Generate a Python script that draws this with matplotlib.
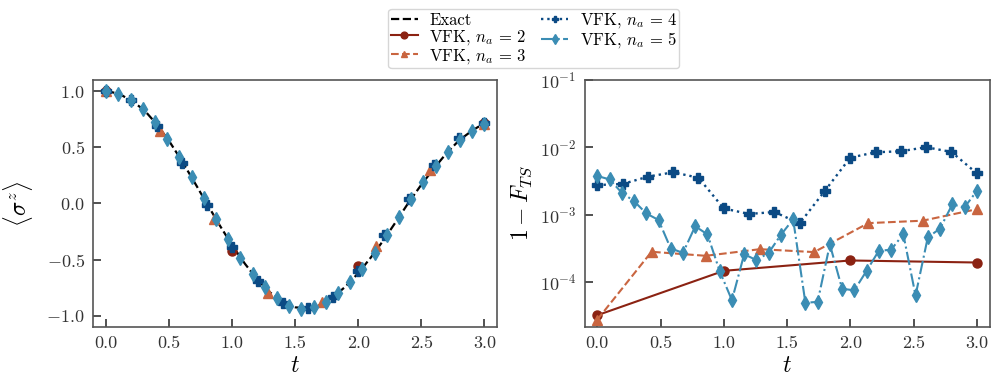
import numpy as np
import matplotlib
matplotlib.use("Agg")
import matplotlib.pyplot as plt

plt.rcParams["font.family"] = "serif"
plt.rcParams["font.serif"] = ["cmr10", "DejaVu Serif"]
plt.rcParams["mathtext.fontset"] = "cm"
plt.rcParams["axes.formatter.use_mathtext"] = True
plt.rcParams["axes.unicode_minus"] = True

# colours for the different n_a
c2 = "#8b2212"
c3 = "#c96540"
c4 = "#0b4a84"
c5 = "#3b8db4"

# exact solution <sigma^z>(t)
t_exact = np.linspace(0, 3, 31)
sz_exact = [1.0, 0.977, 0.914, 0.832, 0.705, 0.553, 0.378, 0.188, -0.005, -0.195,
            -0.375, -0.537, -0.680, -0.793, -0.876, -0.925, -0.935, -0.905, -0.835, -0.738,
            -0.620, -0.480, -0.327, -0.160, 0.010, 0.167, 0.312, 0.448, 0.562, 0.646, 0.715]

# time grids for each VFK run
t2 = np.linspace(0, 3, 4)
t3 = np.linspace(0, 3, 8)
t4 = np.linspace(0, 3, 16)
t5 = np.linspace(0, 3, 32)

# <sigma^z> from VFK
sz2 = [1.0, -0.42, -0.553, 0.716]
sz3 = [1.0, 0.648, -0.14, -0.793, -0.88, -0.383, 0.30, 0.71]
sz4 = [1.0, 0.918, 0.69, 0.36, -0.018, -0.39, -0.695, -0.883, -0.933, -0.829,
       -0.606, -0.285, 0.042, 0.345, 0.582, 0.716]
sz5 = [1.0, 0.978, 0.918, 0.841, 0.722, 0.577, 0.413, 0.232, 0.048, -0.137,
       -0.318, -0.487, -0.627, -0.746, -0.844, -0.909, -0.936, -0.924, -0.880, -0.799,
       -0.698, -0.585, -0.437, -0.285, -0.119, 0.042, 0.190, 0.330, 0.461, 0.568,
       0.648, 0.707]

# infidelity 1 - F_TS
inf2 = [3.2e-5, 1.46e-4, 2.08e-4, 1.94e-4]
inf3 = [2.75e-5, 2.8e-4, 2.44e-4, 3.06e-4, 2.77e-4, 7.46e-4, 8.1e-4, 1.2e-3]
inf4 = [2.74e-3, 2.84e-3, 3.65e-3, 4.24e-3, 3.52e-3, 1.23e-3, 1.02e-3, 1.09e-3,
        7.4e-4, 2.26e-3, 7.0e-3, 8.4e-3, 8.7e-3, 1.0e-2, 8.5e-3, 4.1e-3]
inf5 = [3.73e-3, 3.33e-3, 2.11e-3, 1.58e-3, 1.04e-3, 8.3e-4, 3.13e-4, 2.7e-4,
        6.7e-4, 5.07e-4, 1.44e-4, 5.35e-5, 2.58e-4, 2.1e-4, 2.7e-4, 5.0e-4,
        8.5e-4, 4.9e-5, 5.05e-5, 3.6e-4, 7.9e-5, 7.5e-5, 1.46e-4, 2.9e-4,
        3.0e-4, 5.1e-4, 6.3e-5, 4.57e-4, 6.2e-4, 1.41e-3, 1.28e-3, 2.23e-3]

fig = plt.figure(figsize=(9.96, 3.82), dpi=100)
ax1 = fig.add_axes([0.0934, 0.144, 0.4056, 0.647])
ax2 = fig.add_axes([0.587, 0.144, 0.407, 0.647])

ms = 6.5
ex, = ax1.plot(t_exact, sz_exact, "--", color="black", lw=1.6, zorder=1)
ax1.plot(t2, sz2, "o", color=c2, ms=ms, ls="none")
ax1.plot(t3, sz3, "^", color=c3, ms=ms, ls="none")
ax1.plot(t4, sz4, "P", color=c4, ms=ms, ls="none")
ax1.plot(t5, sz5, "d", color=c5, ms=ms + 0.5, ls="none")

l2, = ax2.plot(t2, inf2, "o-", color=c2, ms=ms, lw=1.5)
l3, = ax2.plot(t3, inf3, "^--", color=c3, ms=ms, lw=1.5)
l4, = ax2.plot(t4, inf4, "P:", color=c4, ms=ms, lw=1.7)
l5, = ax2.plot(t5, inf5, "d-.", color=c5, ms=ms + 0.5, lw=1.5)
ax2.set_yscale("log")

ax1.set_xlim(-0.105, 3.1)
ax1.set_ylim(-1.1, 1.1)
ax1.set_yticks([-1.0, -0.5, 0.0, 0.5, 1.0])
ax2.set_xlim(-0.1, 3.105)
ax2.set_ylim(2.14e-5, 1e-1)
ax2.set_yticks([1e-4, 1e-3, 1e-2, 1e-1])
ax2.minorticks_off()

for ax in (ax1, ax2):
    ax.set_xticks(np.arange(0, 3.01, 0.5))
    ax.set_xticklabels(["0.0", "0.5", "1.0", "1.5", "2.0", "2.5", "3.0"])
    ax.tick_params(direction="in", length=6, width=1.2, labelsize=13, colors="#333333",
                   pad=6)
    ax.set_xlabel(r"$t$", fontsize=17, labelpad=3)
    for s in ax.spines.values():
        s.set_color("#555555")
        s.set_linewidth(1.2)

ax1.set_ylabel(r"$\langle\sigma^z\rangle$", fontsize=17, labelpad=8)
ax2.set_ylabel(r"$1-F_{TS}$", fontsize=17, labelpad=4)

labels = ["Exact", r"VFK, $n_a\,=\,2$", r"VFK, $n_a\,=\,3$",
          r"VFK, $n_a\,=\,4$", r"VFK, $n_a\,=\,5$"]
fig.legend([ex, l2, l3, l4, l5], labels, loc="upper center",
           bbox_to_anchor=(0.536, 0.986), ncol=2, fontsize=12, markerscale=0.75,
           frameon=True, edgecolor="#cccccc", handlelength=1.6, columnspacing=0.9,
           labelspacing=0.0, borderpad=0.15, handletextpad=0.7, borderaxespad=0.2)

fig.savefig("out.png", dpi=100)
